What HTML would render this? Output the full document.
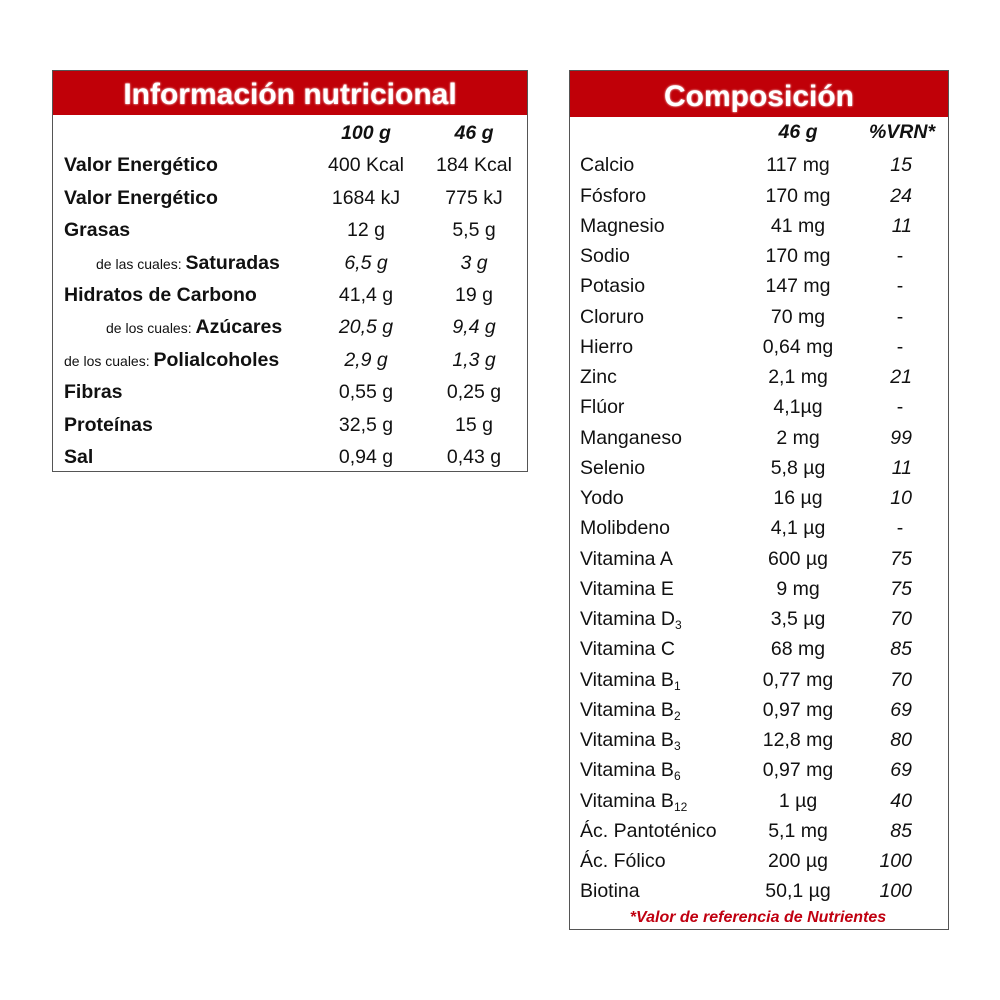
<!DOCTYPE html>
<html><head><meta charset="utf-8"><style>
body{margin:0;width:1000px;height:1000px;background:#fff;position:relative;font-family:"Liberation Sans",sans-serif;color:#111;overflow:hidden}
.box{position:absolute;border:1.5px solid #555;background:#fff}
.hd{position:absolute;left:0;right:0;top:0;background:#c00008;color:#fff;font-weight:bold;text-align:center;font-size:30px;text-shadow:0 0 2px #fff}
.r{position:absolute;height:30px;line-height:30px;font-size:19.5px;white-space:nowrap}
.c{text-align:center}
.b{font-weight:bold}
.i{font-style:italic}
.s{font-size:14px}
sub{font-size:12px;vertical-align:-4px;line-height:0}
</style></head><body>
<div class="box" style="left:52px;top:70px;width:474px;height:400px">
<div class="hd" style="height:44px;line-height:48px">Información nutricional</div>
</div>
<div class="box" style="left:569px;top:70px;width:378px;height:858px">
<div class="hd" style="height:46px;line-height:52px">Composición</div>
</div>
<div id="L"></div>
<div id="R"></div>
<script>
var L=[["","<b><i>100 g</i></b>","<b><i>46 g</i></b>"],
["<b>Valor Energético</b>","400 Kcal","184 Kcal"],
["<b>Valor Energético</b>","1684 kJ","775 kJ"],
["<b>Grasas</b>","12 g","5,5 g"],
["<span style='padding-left:32px' class='s'>de las cuales: </span><b>Saturadas</b>","<i>6,5 g</i>","<i>3 g</i>"],
["<b>Hidratos de Carbono</b>","41,4 g","19 g"],
["<span style='padding-left:42px' class='s'>de los cuales: </span><b>Azúcares</b>","<i>20,5 g</i>","<i>9,4 g</i>"],
["<span class='s'>de los cuales: </span><b>Polialcoholes</b>","<i>2,9 g</i>","<i>1,3 g</i>"],
["<b>Fibras</b>","0,55 g","0,25 g"],
["<b>Proteínas</b>","32,5 g","15 g"],
["<b>Sal</b>","0,94 g","0,43 g"]];
var h="";
L.forEach(function(r,k){var y=118+k*32.4;
h+="<div class='r' style='left:64px;top:"+y+"px'>"+r[0]+"</div>";
h+="<div class='r c' style='left:306px;width:120px;top:"+y+"px'>"+r[1]+"</div>";
h+="<div class='r c' style='left:414px;width:120px;top:"+y+"px'>"+r[2]+"</div>";});
document.getElementById("L").innerHTML=h;
var R=[["","<b><i>46 g</i></b>","<b><i>%VRN*</i></b>"],
["Calcio","117 mg","15"],["Fósforo","170 mg","24"],["Magnesio","41 mg","11"],["Sodio","170 mg","-"],["Potasio","147 mg","-"],["Cloruro","70 mg","-"],["Hierro","0,64 mg","-"],["Zinc","2,1 mg","21"],["Flúor","4,1µg","-"],["Manganeso","2 mg","99"],["Selenio","5,8 µg","11"],["Yodo","16 µg","10"],["Molibdeno","4,1 µg","-"],["Vitamina A","600 µg","75"],["Vitamina E","9 mg","75"],["Vitamina D<sub>3</sub>","3,5 µg","70"],["Vitamina C","68 mg","85"],["Vitamina B<sub>1</sub>","0,77 mg","70"],["Vitamina B<sub>2</sub>","0,97 mg","69"],["Vitamina B<sub>3</sub>","12,8 mg","80"],["Vitamina B<sub>6</sub>","0,97 mg","69"],["Vitamina B<sub>12</sub>","1 µg","40"],["Ác. Pantoténico","5,1 mg","85"],["Ác. Fólico","200 µg","100"],["Biotina","50,1 µg","100"]];
h="";
R.forEach(function(r,k){var y=(k==0?117:120)+k*30.25;
h+="<div class='r' style='left:580px;top:"+y+"px'>"+r[0]+"</div>";
h+="<div class='r c' style='left:738px;width:120px;top:"+y+"px'>"+r[1]+"</div>";
if(k==0)h+="<div class='r c' style='left:842px;width:120px;top:"+y+"px'>"+r[2]+"</div>";
else if(r[2]=="-")h+="<div class='r c' style='left:880px;width:40px;top:"+y+"px'>-</div>";
else h+="<div class='r i' style='left:812px;width:100px;text-align:right;top:"+y+"px'>"+r[2]+"</div>";});
h+="<div class='r c b i' style='left:569px;width:378px;top:903px;font-size:16px;color:#c00010'>*Valor de referencia de Nutrientes</div>";
document.getElementById("R").innerHTML=h;
</script>
</body></html>
